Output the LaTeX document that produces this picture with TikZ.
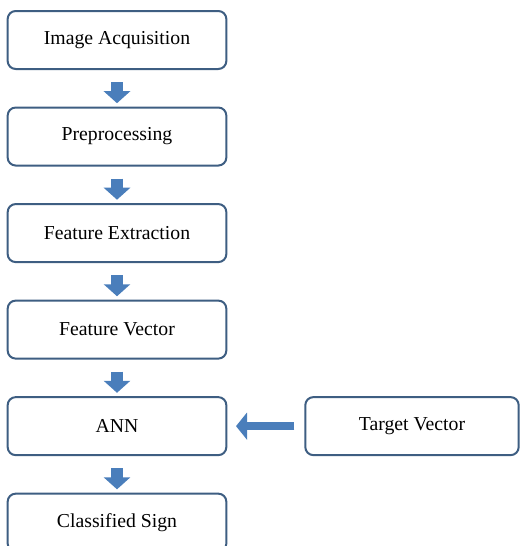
\documentclass[tikz,border=0pt]{standalone}
\usepackage{fontspec}
\setmainfont{Liberation Serif}
\usepackage{xcolor}
\usepackage{tikz}
\usetikzlibrary{arrows.meta,positioning}

\definecolor{boxedge}{RGB}{62,94,130}
\definecolor{arrowblue}{RGB}{74,126,187}

\begin{document}
\begin{tikzpicture}[
      x=0.75pt, y=-0.75pt,
      node distance=27.4pt,
      stage/.style={rectangle, draw=boxedge, line width=1.5pt, fill=white, rounded corners=6pt, minimum width=164pt, minimum height=43.5pt, align=center, font=\fontsize{14.8}{17}\selectfont},
      flow/.style={draw=arrowblue, line width=9pt, -{Triangle[length=9pt,width=19.5pt]}, shorten <=9pt, shorten >=2.5pt},
      feed/.style={draw=arrowblue, line width=6pt, -{Triangle[length=8.25pt,width=20pt]}, shorten <=7.5pt, shorten >=6.5pt}
    ]
    \useasboundingbox (0,0) rectangle (520,546);
    \node[stage] (acq) at (117,40) {Image Acquisition};
    \node[stage, below=of acq] (pre) {Preprocessing};
    \node[stage, below=of pre] (fext) {Feature Extraction};
    \node[stage, below=of fext] (fvec) {Feature Vector};
    \node[stage, below=of fvec] (ann) {ANN};
    \node[stage, below=of ann] (sign) {Classified Sign};
    \node[stage, minimum width=160pt, right=57.75pt of ann] (target) {Target Vector};

    \draw[flow] (acq) -- (pre);
    \draw[flow] (pre) -- (fext);
    \draw[flow] (fext) -- (fvec);
    \draw[flow] (fvec) -- (ann);
    \draw[flow] (ann) -- (sign);
    \draw[feed] (target) -- (ann);
  \end{tikzpicture}
\end{document}
